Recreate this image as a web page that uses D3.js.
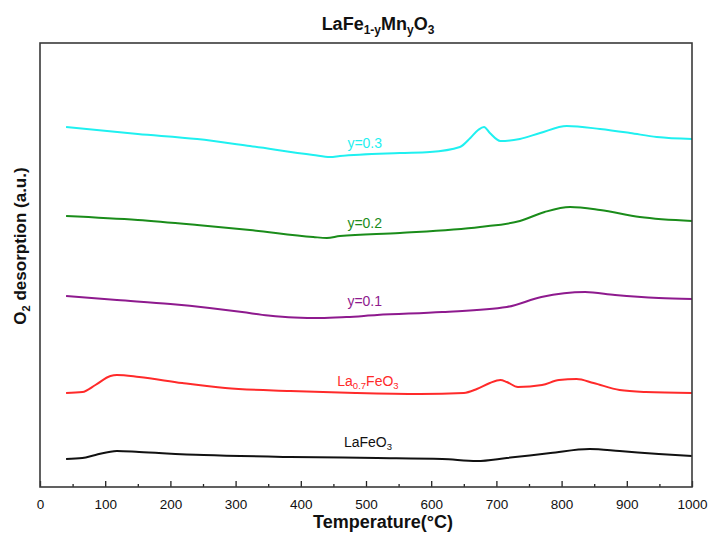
<!DOCTYPE html>
<html><head><meta charset="utf-8">
<script src="https://cdn.jsdelivr.net/npm/d3@7"></script>
<style>body{margin:0;background:#fff;} svg{display:block;font-family:Arial,"Liberation Sans",sans-serif;}</style>
</head><body>
<svg id="chart" width="713" height="536"></svg>
<script>
// Temperature (°C) sample points and O2 desorption signal (a.u., offset curves)
const tempY03 = [40,150,241,322,419,445,460,552,598,644,660,672,681,690,706,736,767,808,859,905,946,1000];
const sigY03  = [36.0,35.3,34.8,34.1,33.2,33.0,33.1,33.4,33.5,34.0,34.9,35.7,36.0,35.4,34.6,34.8,35.4,36.1,35.8,35.4,35.0,34.8];

const tempY02 = [40,150,241,322,419,440,460,552,675,736,774,813,859,920,1000];
const sigY02  = [27.1,26.7,26.2,25.7,25.0,24.9,25.1,25.4,26.0,26.6,27.5,28.0,27.7,27.0,26.6];

const tempY01 = [40,118,200,260,310,350,390,430,470,517,617,716,769,836,882,949,1000];
const sigY01  = [19.1,18.7,18.3,17.9,17.5,17.15,16.95,16.9,17.0,17.2,17.5,18.0,19.0,19.5,19.2,18.9,18.8];

const tempLa07 = [40,65,85,108,118,152,218,284,384,484,583,650,670,690,706,716,733,770,796,823,849,889,929,1000];
const sigLa07  = [9.4,9.5,10.2,11.1,11.2,11.0,10.4,9.9,9.6,9.4,9.3,9.4,9.8,10.4,10.7,10.5,10.0,10.2,10.7,10.8,10.4,9.7,9.5,9.4];

const tempLaFe = [40,65,85,118,152,251,384,517,617,670,716,783,843,889,949,1000];
const sigLaFe  = [2.8,2.9,3.2,3.6,3.5,3.2,3.0,2.9,2.8,2.6,2.9,3.4,3.8,3.6,3.3,3.1];

const seriesNames  = ["y=0.3","y=0.2","y=0.1","La0.7FeO3","LaFeO3"];
const seriesColors = ["#1ff0f0","#1a8c1a","#8e1a8e","#ff2a2a","#111111"];
const labelTemps   = [498,498,498,503,503];
const labelSignals = [33.9,25.9,18.1,10.1,4.0];

const xTicks = [0,100,200,300,400,500,600,700,800,900,1000];
const xMinorTicks = [50,150,250,350,450,550,650,750,850,950];

const series = [
  {t: tempY03, v: sigY03},
  {t: tempY02, v: sigY02},
  {t: tempY01, v: sigY01},
  {t: tempLa07, v: sigLa07},
  {t: tempLaFe, v: sigLaFe}
];

const svg = d3.select("#chart");
const L = 40, R = 692, T = 43, B = 487;
const x = d3.scaleLinear().domain([0,1000]).range([L,R]);
const y = d3.scaleLinear().domain([0,44.4]).range([B,T]);

// lines
const line = d3.line().x(d=>x(d[0])).y(d=>y(d[1])).curve(d3.curveMonotoneX);
series.forEach((s,i)=>{
  svg.append("path")
    .datum(s.t.map((t,j)=>[t,s.v[j]]))
    .attr("fill","none").attr("stroke",seriesColors[i])
    .attr("stroke-width",2).attr("d",line);
});

// series labels
seriesNames.forEach((n,i)=>{
  const t = svg.append("text")
    .attr("x", x(labelTemps[i])).attr("y", y(labelSignals[i]))
    .attr("text-anchor","middle").attr("font-size",14)
    .attr("fill",seriesColors[i]);
  if(n==="La0.7FeO3"){
    t.append("tspan").text("La");
    t.append("tspan").text("0.7").attr("font-size",9.5).attr("dy",3);
    t.append("tspan").text("FeO").attr("dy",-3);
    t.append("tspan").text("3").attr("font-size",9.5).attr("dy",3);
  } else if(n==="LaFeO3"){
    t.append("tspan").text("LaFeO");
    t.append("tspan").text("3").attr("font-size",9.5).attr("dy",3);
  } else {
    t.text(n);
  }
});

// x axis
const xAxis = d3.axisBottom(x).tickValues(xTicks).tickSize(-6).tickPadding(12).tickFormat(d3.format("d"));
const gx = svg.append("g").attr("transform",`translate(0,${B})`).call(xAxis);
gx.select(".domain").remove();
gx.selectAll("line").attr("stroke","#222").attr("stroke-width",1.3);
gx.selectAll("text").attr("font-size",13.5).attr("fill","#111")
  .attr("font-family","Arial,'Liberation Sans',sans-serif");
const gxm = svg.append("g").attr("transform",`translate(0,${B})`)
  .call(d3.axisBottom(x).tickValues(xMinorTicks).tickSize(-3).tickFormat(""));
gxm.select(".domain").remove();
gxm.selectAll("line").attr("stroke","#222").attr("stroke-width",1.3);

// frame
svg.append("rect").attr("x",L).attr("y",T).attr("width",R-L).attr("height",B-T)
  .attr("fill","none").attr("stroke","#3a3a3a").attr("stroke-width",1.6);

// title
const title = svg.append("text").attr("x",378).attr("y",30)
  .attr("text-anchor","middle").attr("font-size",18).attr("font-weight","bold").attr("fill","#111");
title.append("tspan").text("LaFe");
title.append("tspan").text("1-y").attr("font-size",12).attr("dy",4);
title.append("tspan").text("Mn").attr("dy",-4);
title.append("tspan").text("y").attr("font-size",12).attr("dy",4);
title.append("tspan").text("O").attr("dy",-4);
title.append("tspan").text("3").attr("font-size",12).attr("dy",4);

// x label
svg.append("text").attr("x",383).attr("y",528).attr("text-anchor","middle")
  .attr("font-size",18).attr("font-weight","bold").attr("fill","#111").text("Temperature(°C)");

// y label
const yl = svg.append("text").attr("transform","translate(26,246) rotate(-90)")
  .attr("text-anchor","middle").attr("font-size",17).attr("font-weight","bold").attr("fill","#111");
yl.append("tspan").text("O");
yl.append("tspan").text("2").attr("font-size",11).attr("dy",4);
yl.append("tspan").text(" desorption (a.u.)").attr("dy",-4);
</script>
</body></html>
